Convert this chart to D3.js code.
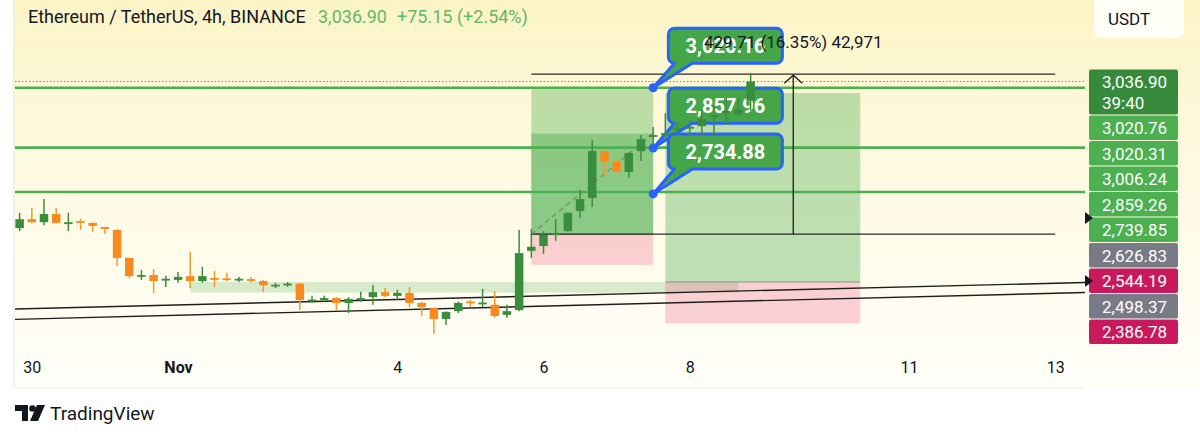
<!DOCTYPE html>
<html>
<head>
<meta charset="utf-8">
<script src="https://cdn.jsdelivr.net/npm/d3@7"></script>
<style>
  body { margin: 0; background: #fff; }
  svg { display: block; font-family: Roboto, "Noto Sans", sans-serif; }
</style>
</head>
<body>
<div id="chart"></div>
<script>
const width = 1200;
const height = 440;

// ETH/USDT 4h bars, first bar opens Oct 29 20:00 UTC
const firstBar = "2024-10-29T20:00:00Z";
const open  = [2643,2667,2659,2681,2657,2662,2657,2646,2638,2563,2514,2517,2505,2504,2514,2501,2509,2508,2505,2506,
               2501,2489,2492,2494,2449,2450,2455,2442,2453,2458,2471,2461,2469,2442,2428,2399,2420,2446,2441,2437,
               2410,2423,2582,2595,2626,2635,2689,2724,2850,2821,2794,2850,2888,2893,2906,2912,2917,2941,2952,2950,2985];
const high  = [2684,2697,2721,2697,2684,2668,2658,2647,2640,2563,2531,2533,2515,2525,2579,2539,2528,2523,2512,2512,
               2504,2496,2498,2495,2461,2461,2458,2458,2472,2490,2482,2477,2485,2445,2430,2419,2445,2450,2480,2474,
               2437,2638,2641,2635,2668,2685,2746,2880,2851,2829,2846,2893,2915,2952,2928,2934,2960,2971,2993,2993,3060];
const low   = [2635,2656,2651,2656,2635,2638,2633,2627,2541,2509,2504,2469,2485,2496,2482,2496,2485,2501,2498,2496,
               2472,2482,2485,2423,2442,2445,2423,2415,2445,2437,2458,2450,2431,2407,2359,2383,2415,2431,2431,2402,
               2402,2420,2563,2574,2609,2633,2670,2700,2783,2793,2778,2823,2866,2893,2893,2893,2893,2893,2920,2945,2958];
const close = [2667,2659,2681,2657,2659,2660,2649,2641,2563,2514,2517,2501,2507,2512,2501,2514,2506,2506,2507,2503,
               2490,2491,2494,2450,2451,2455,2442,2453,2455,2471,2461,2469,2442,2431,2399,2418,2442,2444,2443,2407,
               2420,2576,2593,2625,2629,2684,2721,2850,2821,2794,2845,2882,2893,2898,2912,2915,2936,2947,2958,2961.75,3036.90];

// time axis
const tickDates  = ["2024-10-30","2024-11-01","2024-11-04","2024-11-06","2024-11-08","2024-11-11","2024-11-13"];
const tickLabels = ["30","Nov","4","6","8","11","13"];

// drawings
const hLevels = [3020.31, 2859.26, 2739.85];
const lastPrice = 3036.90;
const trendLines = [
  { t1: "2024-10-30T00:00:00Z", p1: 2427, t2: "2024-11-13T00:00:00Z", p2: 2495 },
  { t1: "2024-10-30T00:00:00Z", p1: 2399, t2: "2024-11-13T00:00:00Z", p2: 2468 }
];
const zone = { t1: "2024-11-01T04:00:00Z", t2: "2024-11-08T16:00:00Z", top: 2498.37, bottom: 2470 };
const longLeft  = { t1: "2024-11-05T20:00:00Z", t2: "2024-11-07T12:00:00Z", target: 3020.76, entry: 2626.83, stop: 2544.19, reached: 2897 };
const longRight = { t1: "2024-11-07T16:00:00Z", t2: "2024-11-10T08:00:00Z", target: 3006.24, entry: 2498.37, stop: 2386.78 };
const measure = { t1: "2024-11-05T20:00:00Z", t2: "2024-11-13T00:00:00Z", tv: "2024-11-09T10:00:00Z", from: 2626.83, to: 3056.54,
                  label: "429.71 (16.35%) 42,971" };
const callouts = [
  { label: "3,020.16", price: 3020.16, boxTop: 3180 },
  { label: "2,857.96", price: 2857.96, boxTop: 3019 },
  { label: "2,734.88", price: 2734.88, boxTop: 2896 }
];
const calloutTarget = "2024-11-07T12:00:00Z";
const calloutBox = "2024-11-07T17:00:00Z";

// price scale labels
const axisPrices = [3036.90, 3020.76, 3020.31, 3006.24, 2859.26, 2739.85, 2626.83, 2544.19, 2498.37, 2386.78];
const axisKinds  = ["last","green","green","green","green","green","grey","red","grey","red"];
const axisMarkers = [2670, 2501];

const plotLeft = 15, plotRight = 1085, plotBottom = 346;

const x = d3.scaleUtc()
  .domain([new Date("2024-10-30T00:00:00Z"), new Date("2024-11-13T00:00:00Z")])
  .range([31.8, 1055.2]);
const y = d3.scaleLinear()
  .domain([2386.78, 3036.90])
  .range([323.5, 81.5]);
const T = s => new Date(s);

const bars = open.map((o, i) => ({
  t: d3.utcHour.offset(new Date(firstBar), 4 * i),
  o, h: high[i], l: low[i], c: close[i]
}));

const svg = d3.select('#chart')
  .append('svg')
  .attr('width', width)
  .attr('height', height);

const defs = svg.append('defs');
const grad = defs.append('linearGradient')
  .attr('id', 'bg').attr('x1', 0).attr('x2', 0).attr('y1', 0).attr('y2', 1);
grad.append('stop').attr('offset', '0%').attr('stop-color', '#fcf4c6');
grad.append('stop').attr('offset', '45%').attr('stop-color', '#fefae2');
grad.append('stop').attr('offset', '100%').attr('stop-color', '#fffef9');
defs.append('clipPath').attr('id', 'plot')
  .append('rect').attr('x', plotLeft).attr('y', 0).attr('width', plotRight - plotLeft).attr('height', plotBottom);

// panel background
svg.append('rect')
  .attr('x', 13).attr('y', 0).attr('width', width - 13).attr('height', 388)
  .attr('fill', 'url(#bg)');
svg.append('line')
  .attr('x1', 14).attr('x2', 14).attr('y1', 0).attr('y2', 388)
  .attr('stroke', '#e6e6e0');
svg.append('line')
  .attr('x1', 14).attr('x2', plotRight).attr('y1', 388).attr('y2', 388)
  .attr('stroke', '#ececea');

const plot = svg.append('g').attr('clip-path', 'url(#plot)');

// light green zone
plot.append('rect')
  .attr('x', x(T(zone.t1))).attr('y', y(zone.top))
  .attr('width', x(T(zone.t2)) - x(T(zone.t1)))
  .attr('height', y(zone.bottom) - y(zone.top))
  .attr('fill', '#4caf50').attr('fill-opacity', 0.22);

// long position tools
function positionBox(p, withReached) {
  const x0 = x(T(p.t1)), w = x(T(p.t2)) - x0;
  plot.append('rect')
    .attr('x', x0).attr('y', y(p.target)).attr('width', w)
    .attr('height', y(p.entry) - y(p.target))
    .attr('fill', '#4caf50').attr('fill-opacity', 0.36);
  if (withReached) {
    plot.append('rect')
      .attr('x', x0).attr('y', y(p.reached)).attr('width', w)
      .attr('height', y(p.entry) - y(p.reached))
      .attr('fill', '#4caf50').attr('fill-opacity', 0.44);
  }
  plot.append('rect')
    .attr('x', x0).attr('y', y(p.entry)).attr('width', w)
    .attr('height', y(p.stop) - y(p.entry))
    .attr('fill', '#e91e63').attr('fill-opacity', 0.2);
  plot.append('line')
    .attr('x1', x0).attr('x2', x0 + w)
    .attr('y1', y(p.entry)).attr('y2', y(p.entry))
    .attr('stroke', '#8d8d8d').attr('stroke-width', 1);
}
positionBox(longLeft, true);
positionBox(longRight, false);

// horizontal levels
plot.selectAll('.level')
  .data(hLevels)
  .enter()
  .append('line')
  .attr('x1', plotLeft).attr('x2', plotRight)
  .attr('y1', d => y(d)).attr('y2', d => y(d))
  .attr('stroke', '#4caf50').attr('stroke-width', 2.6);

// last price line
plot.append('line')
  .attr('x1', plotLeft).attr('x2', plotRight)
  .attr('y1', y(lastPrice)).attr('y2', y(lastPrice))
  .attr('stroke', '#8a8a80').attr('stroke-width', 1)
  .attr('stroke-dasharray', '1.5,2');

// trend lines, extended across the pane
trendLines.forEach(l => {
  const xa = x(T(l.t1)), ya = y(l.p1), xb = x(T(l.t2)), yb = y(l.p2);
  const k = (yb - ya) / (xb - xa);
  plot.append('line')
    .attr('x1', plotLeft).attr('y1', ya + k * (plotLeft - xa))
    .attr('x2', plotRight).attr('y2', ya + k * (plotRight - xa))
    .attr('stroke', '#1e1e1e').attr('stroke-width', 1.4);
});

// measure lines
[measure.from, measure.to].forEach(p => {
  plot.append('line')
    .attr('x1', x(T(measure.t1))).attr('x2', x(T(measure.t2)))
    .attr('y1', y(p)).attr('y2', y(p))
    .attr('stroke', '#2a2a2a').attr('stroke-width', 1.3);
});
const mx = x(T(measure.tv));
plot.append('line')
  .attr('x1', mx).attr('x2', mx)
  .attr('y1', y(measure.from)).attr('y2', y(measure.to) + 1)
  .attr('stroke', '#1e1e1e').attr('stroke-width', 1.3);
plot.append('path')
  .attr('d', `M${mx - 9},${y(measure.to) + 9}L${mx},${y(measure.to) + 1}L${mx + 9},${y(measure.to) + 9}`)
  .attr('fill', 'none').attr('stroke', '#1e1e1e').attr('stroke-width', 1.3);

// projection line of the left position
plot.append('line')
  .attr('x1', x(T(longLeft.t1))).attr('y1', y(longLeft.entry))
  .attr('x2', x(T(longLeft.t2))).attr('y2', y(longLeft.reached))
  .attr('stroke', '#6f8f6f').attr('stroke-width', 1.2)
  .attr('stroke-dasharray', '5,4');

// callouts
const cw = 114, ch = 35, cr = 6;
function calloutPath(bx, by, tx, ty) {
  return `M${bx + cr},${by}H${bx + cw - cr}A${cr},${cr} 0 0 1 ${bx + cw},${by + cr}` +
    `V${by + ch - cr}A${cr},${cr} 0 0 1 ${bx + cw - cr},${by + ch}` +
    `H${bx + 24}L${tx},${ty}L${bx + 6},${by + ch}` +
    `A${cr},${cr} 0 0 1 ${bx},${by + ch - cr}V${by + cr}A${cr},${cr} 0 0 1 ${bx + cr},${by}Z`;
}
const co = svg.selectAll('.callout')
  .data(callouts)
  .enter()
  .append('g');
co.append('path')
  .attr('d', d => calloutPath(x(T(calloutBox)), y(d.boxTop), x(T(calloutTarget)), y(d.price)))
  .attr('fill', '#45a649')
  .attr('stroke', '#2962ff').attr('stroke-width', 3).attr('stroke-linejoin', 'round');
co.append('circle')
  .attr('cx', x(T(calloutTarget))).attr('cy', d => y(d.price))
  .attr('r', 4.5).attr('fill', '#2962ff');
co.append('text')
  .attr('x', x(T(calloutBox)) + cw / 2)
  .attr('y', d => y(d.boxTop) + 25)
  .attr('text-anchor', 'middle')
  .attr('fill', '#fff').attr('font-weight', 'bold').attr('font-size', 20)
  .text(d => d.label);

// candles (drawn above the callouts, as on the chart)
const bw = 8.5;
const candle = svg.append('g').attr('clip-path', 'url(#plot)')
  .selectAll('.bar')
  .data(bars)
  .enter()
  .append('g')
  .attr('class', 'bar');
candle.append('line')
  .attr('x1', d => x(d.t)).attr('x2', d => x(d.t))
  .attr('y1', d => y(d.h)).attr('y2', d => y(d.l))
  .attr('stroke', d => d.c >= d.o ? '#3b8e3f' : '#f49a26')
  .attr('stroke-width', 1.5);
candle.append('rect')
  .attr('x', d => x(d.t) - bw / 2)
  .attr('y', d => y(Math.max(d.o, d.c)))
  .attr('width', bw)
  .attr('height', d => Math.max(1.8, Math.abs(y(d.o) - y(d.c))))
  .attr('fill', d => d.c >= d.o ? '#388e3c' : '#f7891f');

// measure label
svg.append('text')
  .attr('x', mx).attr('y', 48)
  .attr('text-anchor', 'middle')
  .attr('font-size', 17).attr('fill', '#131722')
  .text(measure.label);

// header
const header = svg.append('text').attr('x', 28).attr('y', 23).attr('font-size', 18);
header.append('tspan').attr('fill', '#131722').text('Ethereum / TetherUS, 4h, BINANCE');
header.append('tspan').attr('x', 318).attr('fill', '#62b866').text('3,036.90');
header.append('tspan').attr('x', 397).attr('fill', '#62b866').text('+75.15 (+2.54%)');

// currency button
svg.append('rect')
  .attr('x', 1094).attr('y', -6).attr('width', 90).attr('height', 44).attr('rx', 7)
  .attr('fill', '#fff').attr('fill-opacity', 0.85);
svg.append('text')
  .attr('x', 1108).attr('y', 25).attr('font-size', 17).attr('fill', '#131722')
  .text('USDT');

// price scale labels, stacked where they collide
const kindColor = { last: '#378a3b', green: '#4caf50', grey: '#787b86', red: '#c8195c' };
let prevBottom = -Infinity;
const axisLab = axisPrices.map((p, i) => {
  const h = axisKinds[i] === 'last' ? 46 : 25.5;
  let top = Math.max(y(p) - 12.5, prevBottom);
  prevBottom = top + h;
  return { p, kind: axisKinds[i], top, h };
});
const al = svg.selectAll('.plab')
  .data(axisLab)
  .enter()
  .append('g');
al.append('rect')
  .attr('x', 1089).attr('y', d => d.top + 0.5)
  .attr('width', 89).attr('height', d => d.h - 1).attr('rx', 2)
  .attr('fill', d => kindColor[d.kind]);
al.append('text')
  .attr('x', 1102).attr('y', d => d.top + 19)
  .attr('font-size', 17).attr('fill', '#fff')
  .text(d => d3.format(',.2f')(d.p));
svg.append('text')
  .attr('x', 1102).attr('y', axisLab[0].top + 40)
  .attr('font-size', 17).attr('fill', '#fff')
  .text('39:40');

svg.selectAll('.marker')
  .data(axisMarkers)
  .enter()
  .append('path')
  .attr('d', d => `M1085,${y(d) - 6}L1093,${y(d)}L1085,${y(d) + 6}Z`)
  .attr('fill', '#131722');

// time axis
const xAxis = d3.axisBottom(x)
  .tickValues(tickDates.map(d => new Date(d + "T00:00:00Z")))
  .tickFormat((d, i) => tickLabels[i])
  .tickSize(0);
const gx = svg.append('g')
  .attr('transform', 'translate(0,359)')
  .call(xAxis);
gx.select('.domain').remove();
gx.selectAll('text')
  .attr('font-size', 16)
  .attr('font-family', 'Roboto, sans-serif')
  .attr('fill', '#131722')
  .attr('font-weight', (d, i) => tickLabels[i] === 'Nov' ? 'bold' : 'normal');

// footer logo
const logo = svg.append('g').attr('fill', '#131722');
logo.append('path').attr('d', 'M15,405H28V421H22V411H15Z');
logo.append('circle').attr('cx', 32.5).attr('cy', 408.5).attr('r', 3.3);
logo.append('path').attr('d', 'M37,405H45L38,421H30Z');
svg.append('text')
  .attr('x', 50).attr('y', 420)
  .attr('font-size', 19).attr('fill', '#131722')
  .text('TradingView');
</script>
</body>
</html>
